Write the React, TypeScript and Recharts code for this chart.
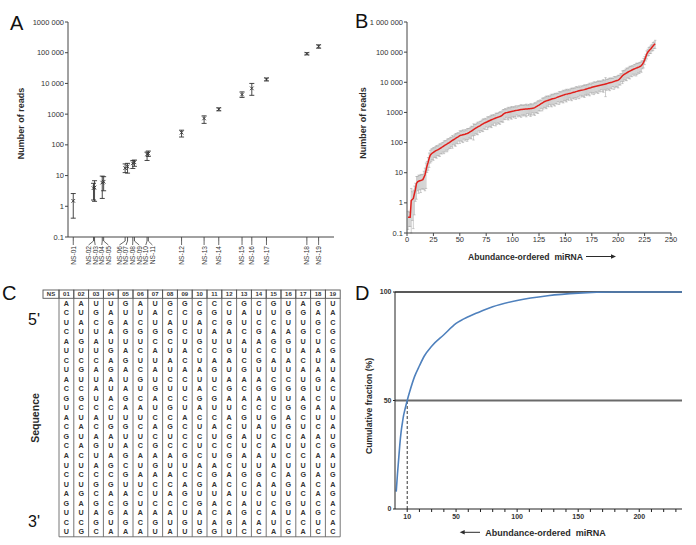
import React from "react";
import {
  ScatterChart,
  Scatter,
  ComposedChart,
  LineChart,
  Line,
  XAxis,
  YAxis,
  ErrorBar,
  ReferenceLine,
} from "recharts";

const FONT = '"Liberation Sans", Arial, Helvetica, sans-serif';
const INK = "#2b2b2b";

// ---------- Panel A: reads per spike-in (NS-01..NS-19) ----------
const nsNames = [
  "NS-01", "NS-02", "NS-03", "NS-04", "NS-05", "NS-06", "NS-07", "NS-08", "NS-09", "NS-10",
  "NS-11", "NS-12", "NS-13", "NS-14", "NS-15", "NS-16", "NS-17", "NS-18", "NS-19",
];
const nsReads = [1.5, 3.9, 4.1, 5.9, 6.3, 17.4, 19.5, 25, 27, 49, 52, 250, 725, 1450, 4350, 6900, 13800, 93000, 162000];
const nsLow = [0.41, 1.6, 1.45, 1.8, 3.2, 12.5, 12, 17, 20, 31, 42, 180, 500, 1280, 3500, 4100, 12000, 85000, 140000];
const nsHigh = [2.6, 5.6, 6.8, 9.6, 9.2, 24, 25, 31, 32, 58, 63, 300, 880, 1600, 5300, 10000, 15000, 100000, 180000];

const logTicks = [0.1, 1, 10, 100, 1000, 10000, 100000, 1000000];
const aTickLabels = ["0.1", "1", "10", "100", "1000", "10 000", "100 000", "1000 000"];
const bTickLabels = ["0.1", "1", "10", "100", "1000", "10 000", "100 000", "1 000 000"];

// ---------- Panel B: abundance-ordered miRNA ----------
const bReads = [
  0.33, 0.33, 0.33, 1.2, 1.3, 1.4, 2, 2.8, 4.4, 5,
  5.2, 5.4, 5.5, 5.7, 5.9, 7, 8.4, 12, 17, 22,
  30, 38, 42, 45, 47, 50, 53, 55, 57, 60,
  63, 66, 70, 74, 78, 82, 86, 90, 95, 100,
  106, 112, 118, 124, 130, 137, 145, 152, 160, 170,
  175, 178, 182, 186, 190, 195, 200, 208, 218, 230,
  240, 255, 270, 285, 300, 315, 330, 345, 360, 380,
  400, 420, 440, 455, 470, 490, 510, 530, 550, 570,
  590, 610, 630, 650, 670, 690, 710, 730, 760, 800,
  860, 920, 960, 985, 1000, 1020, 1040, 1060, 1080, 1100,
  1110, 1130, 1150, 1170, 1190, 1210, 1230, 1250, 1260, 1270,
  1280, 1290, 1300, 1310, 1320, 1330, 1340, 1360, 1380, 1400,
  1450, 1520, 1600, 1680, 1760, 1850, 1950, 2050, 2150, 2270,
  2350, 2420, 2480, 2550, 2620, 2700, 2780, 2850, 2900, 2960,
  3050, 3150, 3250, 3350, 3450, 3550, 3650, 3750, 3850, 3980,
  4050, 4120, 4200, 4280, 4360, 4450, 4550, 4650, 4750, 4900,
  5000, 5100, 5200, 5300, 5400, 5500, 5600, 5700, 5850, 6000,
  6150, 6300, 6450, 6600, 6800, 6950, 7100, 7250, 7400, 7550,
  7700, 7850, 8000, 8150, 8300, 8450, 8600, 8800, 9000, 9200,
  9400, 9600, 9800, 10000, 10300, 10600, 10900, 11200, 11500, 11800,
  12500, 13500, 15000, 16500, 17500, 18500, 19500, 20500, 21500, 22500,
  23500, 24500, 25500, 26500, 27500, 28500, 29500, 30500, 31500, 32500,
  34000, 36000, 40000, 46000, 55000, 68000, 85000, 100000, 110000, 120000,
  130000, 145000, 160000, 175000, 190000,
];
// relative spread of each replicate error bar
const bSpread = [
  0.6, 0.5, 0.5, 1.5, 0.8, 0.9, 0.8, 0.6, 0.7, 0.5,
  0.6, 0.5, 0.6, 0.5, 0.5, 0.6, 0.7, 0.75, 0.4, 0.45,
  0.5, 0.45, 0.45, 0.4, 0.45, 0.35, 0.4, 0.45, 0.35, 0.4,
  0.45, 0.35, 0.4, 0.35, 0.45, 0.4, 0.35, 0.45, 0.4, 0.35,
  0.4, 0.35, 0.45, 0.3, 0.4, 0.45, 0.35, 0.4, 0.3, 0.45,
  0.35, 0.4, 0.45, 0.3, 0.4, 0.35, 0.45, 0.4, 0.35, 0.4,
  0.45, 0.35, 0.55, 0.4, 0.35, 0.4, 0.45, 0.3, 0.4, 0.35,
  0.4, 0.45, 0.35, 0.4, 0.3, 0.45, 0.4, 0.35, 0.4, 0.45,
  0.35, 0.4, 0.3, 0.45, 0.4, 0.35, 0.4, 0.45, 0.35, 0.4,
  0.45, 0.35, 0.4, 0.3, 0.4, 0.45, 0.35, 0.4, 0.45, 0.35,
  0.4, 0.35, 0.45, 0.3, 0.4, 0.35, 0.4, 0.45, 0.35, 0.4,
  0.35, 0.4, 0.45, 0.3, 0.4, 0.35, 0.45, 0.4, 0.3, 0.4,
  0.45, 0.35, 0.4, 0.45, 0.35, 0.4, 0.3, 0.45, 0.4, 0.35,
  0.4, 0.45, 0.35, 0.4, 0.3, 0.4, 0.45, 0.35, 0.4, 0.45,
  0.35, 0.4, 0.3, 0.45, 0.4, 0.35, 0.4, 0.45, 0.35, 0.4,
  0.45, 0.35, 0.4, 0.3, 0.4, 0.45, 0.35, 0.4, 0.35, 0.45,
  0.4, 0.35, 0.45, 0.3, 0.4, 0.35, 0.4, 0.45, 0.35, 0.4,
  0.35, 0.4, 0.45, 0.3, 0.4, 0.35, 0.45, 0.4, 0.35, 0.4,
  0.45, 0.35, 0.4, 0.3, 0.4, 0.45, 0.35, 0.62, 0.4, 0.35,
  0.4, 0.45, 0.35, 0.4, 0.3, 0.45, 0.4, 0.35, 0.4, 0.45,
  0.35, 0.4, 0.3, 0.45, 0.4, 0.35, 0.4, 0.45, 0.35, 0.4,
  0.45, 0.35, 0.4, 0.3, 0.4, 0.35, 0.45, 0.4, 0.35, 0.4,
  0.35, 0.4, 0.3, 0.35, 0.3, 0.25, 0.3, 0.25, 0.3, 0.25,
  0.3, 0.25, 0.3, 0.25, 0.3,
];
const bXTicks = [0, 25, 50, 75, 100, 125, 150, 175, 200, 225, 250];

// ---------- Panel C: spike-in sequences, one string per row (NS-01..NS-19) ----------
const nsColumns = ["01", "02", "03", "04", "05", "06", "07", "08", "09", "10", "11", "12", "13", "14", "15", "16", "17", "18", "19"];
const seqRows = [
  "AAUUGAUGGCCCGCGUAGU",
  "CUGAUUACCGGUAUUGGAA",
  "UACGACUAUACGUCCUUGC",
  "CUUAGGGGCUAACGAAGCG",
  "AGAUUUCCUGUUAAGGUUC",
  "UUUGACAUACCGUCCUAAG",
  "CCCAGUUACUAACGAACUA",
  "UGAGACAUAAGUGUUUAAU",
  "AUUAUGUCCUUAAACCUGA",
  "CCAUAUGUUACGCGGGGUC",
  "GGUAGCACCGGAAAUUACU",
  "UCCCAAUGUAUUCCCGGAA",
  "AUAUUUCCACCAGUGACUU",
  "CACGGCAGCUACUAUGUCA",
  "GUAAUUCUCCUGAUCCAAU",
  "CAGUACGCCUCCUCAUUCG",
  "ACUAGAAAGCUGAAUCCAA",
  "UUAGCUGUUAACUUAUUUU",
  "CCCCGAAACCGAGGCAGAG",
  "UUGGUUCCAGACCAAGACA",
  "AGCAACUAGUUAUCUUCAG",
  "GAGCGUCCCGACAUCGUCA",
  "UUAGAAAAUACAGCAUAGC",
  "CCGUGCGUGUAGAAUCCUA",
  "UGCAAAUAUGGUCCAGACC",
];

// ---------- Panel D: cumulative fraction ----------
const dRank = [1, 2, 3, 4, 5, 6, 7, 8, 10, 12, 16, 20, 24, 30, 40, 50, 60, 67, 80, 100, 125, 150, 180, 200, 235];
const dPct = [8, 16, 23, 30, 35.5, 39.5, 43, 45.5, 50, 54, 61, 66, 70.5, 75, 80.3, 85.5, 88.6, 90.3, 93.2, 96.1, 98.3, 99.5, 100, 100, 100];
const dXTicks = [10, 20, 30, 40, 50, 60, 70, 80, 90, 100, 110, 120, 130, 140, 150, 160, 170, 180, 190, 200, 210, 220, 230];
const dXLabels = [10, 50, 100, 150, 200];

// ---------- derived tables ----------
const aData = nsReads.map((v, i) => ({ name: nsNames[i], reads: v, err: [v - nsLow[i], nsHigh[i] - v] }));
const bData = bReads.map((v, i) => ({
  idx: i + 1,
  reads: v,
  err: [Math.min(v * bSpread[i], v - 0.1), v * bSpread[i]],
}));
const dData = dRank.map((r, i) => ({ rank: r, pct: dPct[i] }));

const A_X_MIN = 1.17;
const A_X_MAX = 335000;
const A_PLOT_W = 266;
const pxPerDecade = A_PLOT_W / Math.log10(A_X_MAX / A_X_MIN);

// spread crowded tick labels apart, keeping each cluster centred on its points
function spreadLabels(px: number[], gap: number): number[] {
  let groups = px.map((p, i) => ({ start: i, end: i, center: p }));
  let merged = true;
  while (merged) {
    merged = false;
    for (let k = 0; k < groups.length - 1; k++) {
      const a = groups[k];
      const b = groups[k + 1];
      const aLast = a.center + ((a.end - a.start) * gap) / 2;
      const bFirst = b.center - ((b.end - b.start) * gap) / 2;
      if (bFirst - aLast < gap) {
        const members = px.slice(a.start, b.end + 1);
        const c = members.reduce((s, v) => s + v, 0) / members.length;
        groups.splice(k, 2, { start: a.start, end: b.end, center: c });
        merged = true;
        break;
      }
    }
  }
  const out: number[] = [];
  groups.forEach((g) => {
    for (let i = g.start; i <= g.end; i++) {
      out.push(g.center + (i - g.start - (g.end - g.start) / 2) * gap);
    }
  });
  return out;
}

const tickPx = nsReads.map((v) => Math.log10(v) * pxPerDecade);
const labelPx = spreadLabels(tickPx, 6.6);
const labelOffsets = labelPx.map((p, i) => p - tickPx[i]);

const NsTick = (props: any) => {
  const { x, y, payload } = props;
  const i = nsReads.indexOf(payload.value);
  if (i < 0) return null;
  const lx = x + labelOffsets[i];
  return (
    <g>
      <line x1={x} y1={y} x2={x} y2={y + 4} stroke="#444" strokeWidth={0.9} />
      <line x1={x} y1={y + 4} x2={lx} y2={y + 8} stroke="#444" strokeWidth={0.8} />
      <text
        transform={`translate(${lx + 2.4},${y + 9}) rotate(-90)`}
        textAnchor="end"
        fontSize={6.6}
        fill="#333"
        fontFamily={FONT}
      >
        {nsNames[i]}
      </text>
    </g>
  );
};

// plain y tick text, no wrapping on the thousands separator
const makeLogTick = (labels: string[]) => (props: any) => {
  const { x, y, payload } = props;
  const i = logTicks.indexOf(payload.value);
  return (
    <text x={x} y={y} dy={2.6} textAnchor="end" fontSize={7.5} fill="#333" fontFamily={FONT}>
      {labels[i] ?? ""}
    </text>
  );
};
const ATick = makeLogTick(aTickLabels);
const BTick = makeLogTick(bTickLabels);

const NsMarker = (props: any) => {
  const { cx, cy } = props;
  if (cx == null || cy == null) return null;
  return (
    <path
      d={`M${cx - 1.8},${cy - 1.8}L${cx + 1.8},${cy + 1.8}M${cx - 1.8},${cy + 1.8}L${cx + 1.8},${cy - 1.8}`}
      stroke="#333"
      strokeWidth={0.9}
    />
  );
};

const tickStyle = { fontSize: 7.5, fill: "#333", fontFamily: FONT };

const PanelA = () => (
  <ScatterChart width={348} height={280} margin={{ top: 22, right: 14, bottom: 13, left: 28 }}>
    <XAxis
      type="number"
      dataKey="reads"
      scale="log"
      domain={[A_X_MIN, A_X_MAX]}
      allowDataOverflow
      ticks={nsReads}
      interval={0}
      tickSize={0}
      tickMargin={0}
      tickLine={false}
      tick={<NsTick />}
      height={30}
      stroke="#444"
    />
    <YAxis
      type="number"
      dataKey="reads"
      scale="log"
      domain={[0.1, 1000000]}
      allowDataOverflow
      ticks={logTicks}
      interval={0}
      tick={<ATick />}
      tickSize={3}
      tickMargin={1}
      width={40}
      stroke="#444"
    />
    <Scatter data={aData} shape={<NsMarker />} isAnimationActive={false}>
      <ErrorBar dataKey="err" direction="y" width={2.5} stroke="#333" strokeWidth={0.9} />
    </Scatter>
  </ScatterChart>
);

const PanelB = () => (
  <ComposedChart width={348} height={280} data={bData} margin={{ top: 22, right: 25, bottom: 27, left: 14 }}>
    <XAxis
      type="number"
      dataKey="idx"
      domain={[0, 250]}
      allowDataOverflow
      ticks={bXTicks}
      interval={0}
      tick={tickStyle}
      tickSize={3}
      tickMargin={1}
      height={20}
      stroke="#444"
    />
    <YAxis
      type="number"
      scale="log"
      domain={[0.1, 1000000]}
      allowDataOverflow
      ticks={logTicks}
      interval={0}
      tick={<BTick />}
      tickSize={3}
      tickMargin={1}
      width={45}
      stroke="#444"
    />
    <Line dataKey="reads" stroke="none" dot={false} isAnimationActive={false}>
      <ErrorBar dataKey="err" direction="y" width={1.2} stroke="#a3a3a3" strokeWidth={0.55} />
    </Line>
    <Line dataKey="reads" stroke="#e0201c" strokeWidth={1.5} dot={false} isAnimationActive={false} />
  </ComposedChart>
);

const PanelD = () => (
  <LineChart width={348} height={265} data={dData} margin={{ top: 12, right: 14, bottom: 16, left: 17 }}>
    <XAxis
      type="number"
      dataKey="rank"
      domain={[0, 235]}
      allowDataOverflow
      ticks={dXTicks}
      interval={0}
      tickFormatter={(v: number) => (dXLabels.includes(v) ? String(v) : "")}
      tick={{ ...tickStyle, fontWeight: 700, fontSize: 7 }}
      tickSize={3}
      tickMargin={2}
      height={20}
      stroke="#222"
    />
    <YAxis
      type="number"
      domain={[0, 100]}
      ticks={[0, 50, 100]}
      interval={0}
      tick={{ ...tickStyle, fontWeight: 700, fontSize: 7 }}
      tickSize={2}
      tickMargin={1.5}
      width={30}
      stroke="#222"
    />
    <ReferenceLine y={100} stroke="#222" strokeWidth={1.5} />
    <ReferenceLine y={50} stroke="#6a6a6a" strokeWidth={2} />
    <ReferenceLine
      segment={[
        { x: 10, y: 0 },
        { x: 10, y: 50 },
      ]}
      stroke="#333"
      strokeWidth={1}
      strokeDasharray="3 2"
    />
    <Line
      type="monotone"
      dataKey="pct"
      stroke="#4f81bd"
      strokeWidth={1.6}
      dot={false}
      isAnimationActive={false}
    />
  </LineChart>
);

// sequence table geometry
const T_LEFT = 43;
const T_NS_W = 16;
const T_COL_W = 14.8;
const T_HEAD_TOP = 290;
const T_HEAD_H = 8.3;
const T_ROW_H = 9.52;

const SequenceTable = () => {
  const bodyTop = T_HEAD_TOP + T_HEAD_H;
  const bodyLeft = T_LEFT + T_NS_W;
  const bodyBottom = bodyTop + seqRows.length * T_ROW_H + 0.5;
  const right = bodyLeft + nsColumns.length * T_COL_W;
  return (
    <g fontFamily={FONT}>
      <rect x={T_LEFT} y={T_HEAD_TOP} width={T_NS_W} height={T_HEAD_H} fill="none" stroke="#555" strokeWidth={0.9} />
      <text x={T_LEFT + T_NS_W / 2} y={T_HEAD_TOP + T_HEAD_H / 2 + 2.2} textAnchor="middle" fontSize={6} fontWeight={700} fill="#333">
        NS
      </text>
      {nsColumns.map((c, i) => (
        <g key={c}>
          <rect
            x={bodyLeft + i * T_COL_W}
            y={T_HEAD_TOP}
            width={T_COL_W}
            height={T_HEAD_H}
            fill="none"
            stroke="#555"
            strokeWidth={0.9}
          />
          <text
            x={bodyLeft + i * T_COL_W + T_COL_W / 2}
            y={T_HEAD_TOP + T_HEAD_H / 2 + 2.2}
            textAnchor="middle"
            fontSize={6}
            fontWeight={700}
            fill="#333"
          >
            {c}
          </text>
        </g>
      ))}
      {Array.from({ length: nsColumns.length + 1 }, (_, i) => (
        <line
          key={`v${i}`}
          x1={bodyLeft + i * T_COL_W}
          y1={bodyTop}
          x2={bodyLeft + i * T_COL_W}
          y2={bodyBottom}
          stroke="#666"
          strokeWidth={0.9}
        />
      ))}
      <line x1={bodyLeft} y1={bodyBottom} x2={right} y2={bodyBottom} stroke="#666" strokeWidth={0.9} />
      {seqRows.map((row, r) =>
        row.split("").map((ch, c) => (
          <text
            key={`${r}-${c}`}
            x={bodyLeft + c * T_COL_W + T_COL_W / 2}
            y={bodyTop + r * T_ROW_H + T_ROW_H / 2 + 2.6}
            textAnchor="middle"
            fontSize={7.2}
            fontWeight={700}
            fill="#333"
          >
            {ch}
          </text>
        ))
      )}
    </g>
  );
};

const Overlay = () => (
  <svg width={696} height={545} style={{ position: "absolute", left: 0, top: 0, pointerEvents: "none" }}>
    <g fontFamily={FONT} fill="#111">
      <text x={10} y={30} fontSize={20}>A</text>
      <text x={355} y={28} fontSize={20}>B</text>
      <text x={2} y={300} fontSize={20}>C</text>
      <text x={355} y={300} fontSize={20}>D</text>
    </g>
    <g fontFamily={FONT} fontWeight={700} fill={INK} fontSize={9}>
      <text transform="translate(21,123.5) rotate(-90)" textAnchor="middle" dominantBaseline="central">
        Number of reads
      </text>
      <text transform="translate(362.5,123) rotate(-90)" textAnchor="middle" dominantBaseline="central">
        Number of reads
      </text>
      <text transform="translate(369,406) rotate(-90)" textAnchor="middle" dominantBaseline="central" fontSize={8.6}>
        Cumulative fraction (%)
      </text>
      <text x={525.5} y={259.7} textAnchor="middle" fontSize={8.6} xmlSpace="preserve">
        Abundance-ordered  miRNA
      </text>
      <text x={545.5} y={535.5} textAnchor="middle" fontSize={9} xmlSpace="preserve">
        Abundance-ordered  miRNA
      </text>
      <text transform="translate(34.5,418) rotate(-90)" textAnchor="middle" dominantBaseline="central" fontSize={10.5}>
        Sequence
      </text>
    </g>
    <g fontFamily={FONT} fill="#111" fontSize={16}>
      <text x={28} y={325}>5'</text>
      <text x={28} y={527}>3'</text>
    </g>
    {/* axis-title arrows */}
    <g stroke={INK} fill={INK}>
      <line x1={586} y1={256.5} x2={613} y2={256.5} strokeWidth={1} />
      <path d="M616,256.5 L611,254.3 L611,258.7 Z" stroke="none" />
      <line x1={463} y1={532.3} x2={480} y2={532.3} strokeWidth={1} />
      <path d="M459.7,532.3 L464.7,530.1 L464.7,534.5 Z" stroke="none" />
    </g>
    <SequenceTable />
  </svg>
);

export default function App() {
  return (
    <div
      style={{
        position: "absolute",
        left: 0,
        top: 0,
        width: 696,
        height: 545,
        background: "#fff",
        fontFamily: FONT,
        overflow: "hidden",
      }}
    >
      <div style={{ position: "absolute", left: 0, top: 0 }}>
        <PanelA />
      </div>
      <div style={{ position: "absolute", left: 348, top: 0 }}>
        <PanelB />
      </div>
      <div style={{ position: "absolute", left: 348, top: 280 }}>
        <PanelD />
      </div>
      <Overlay />
    </div>
  );
}
